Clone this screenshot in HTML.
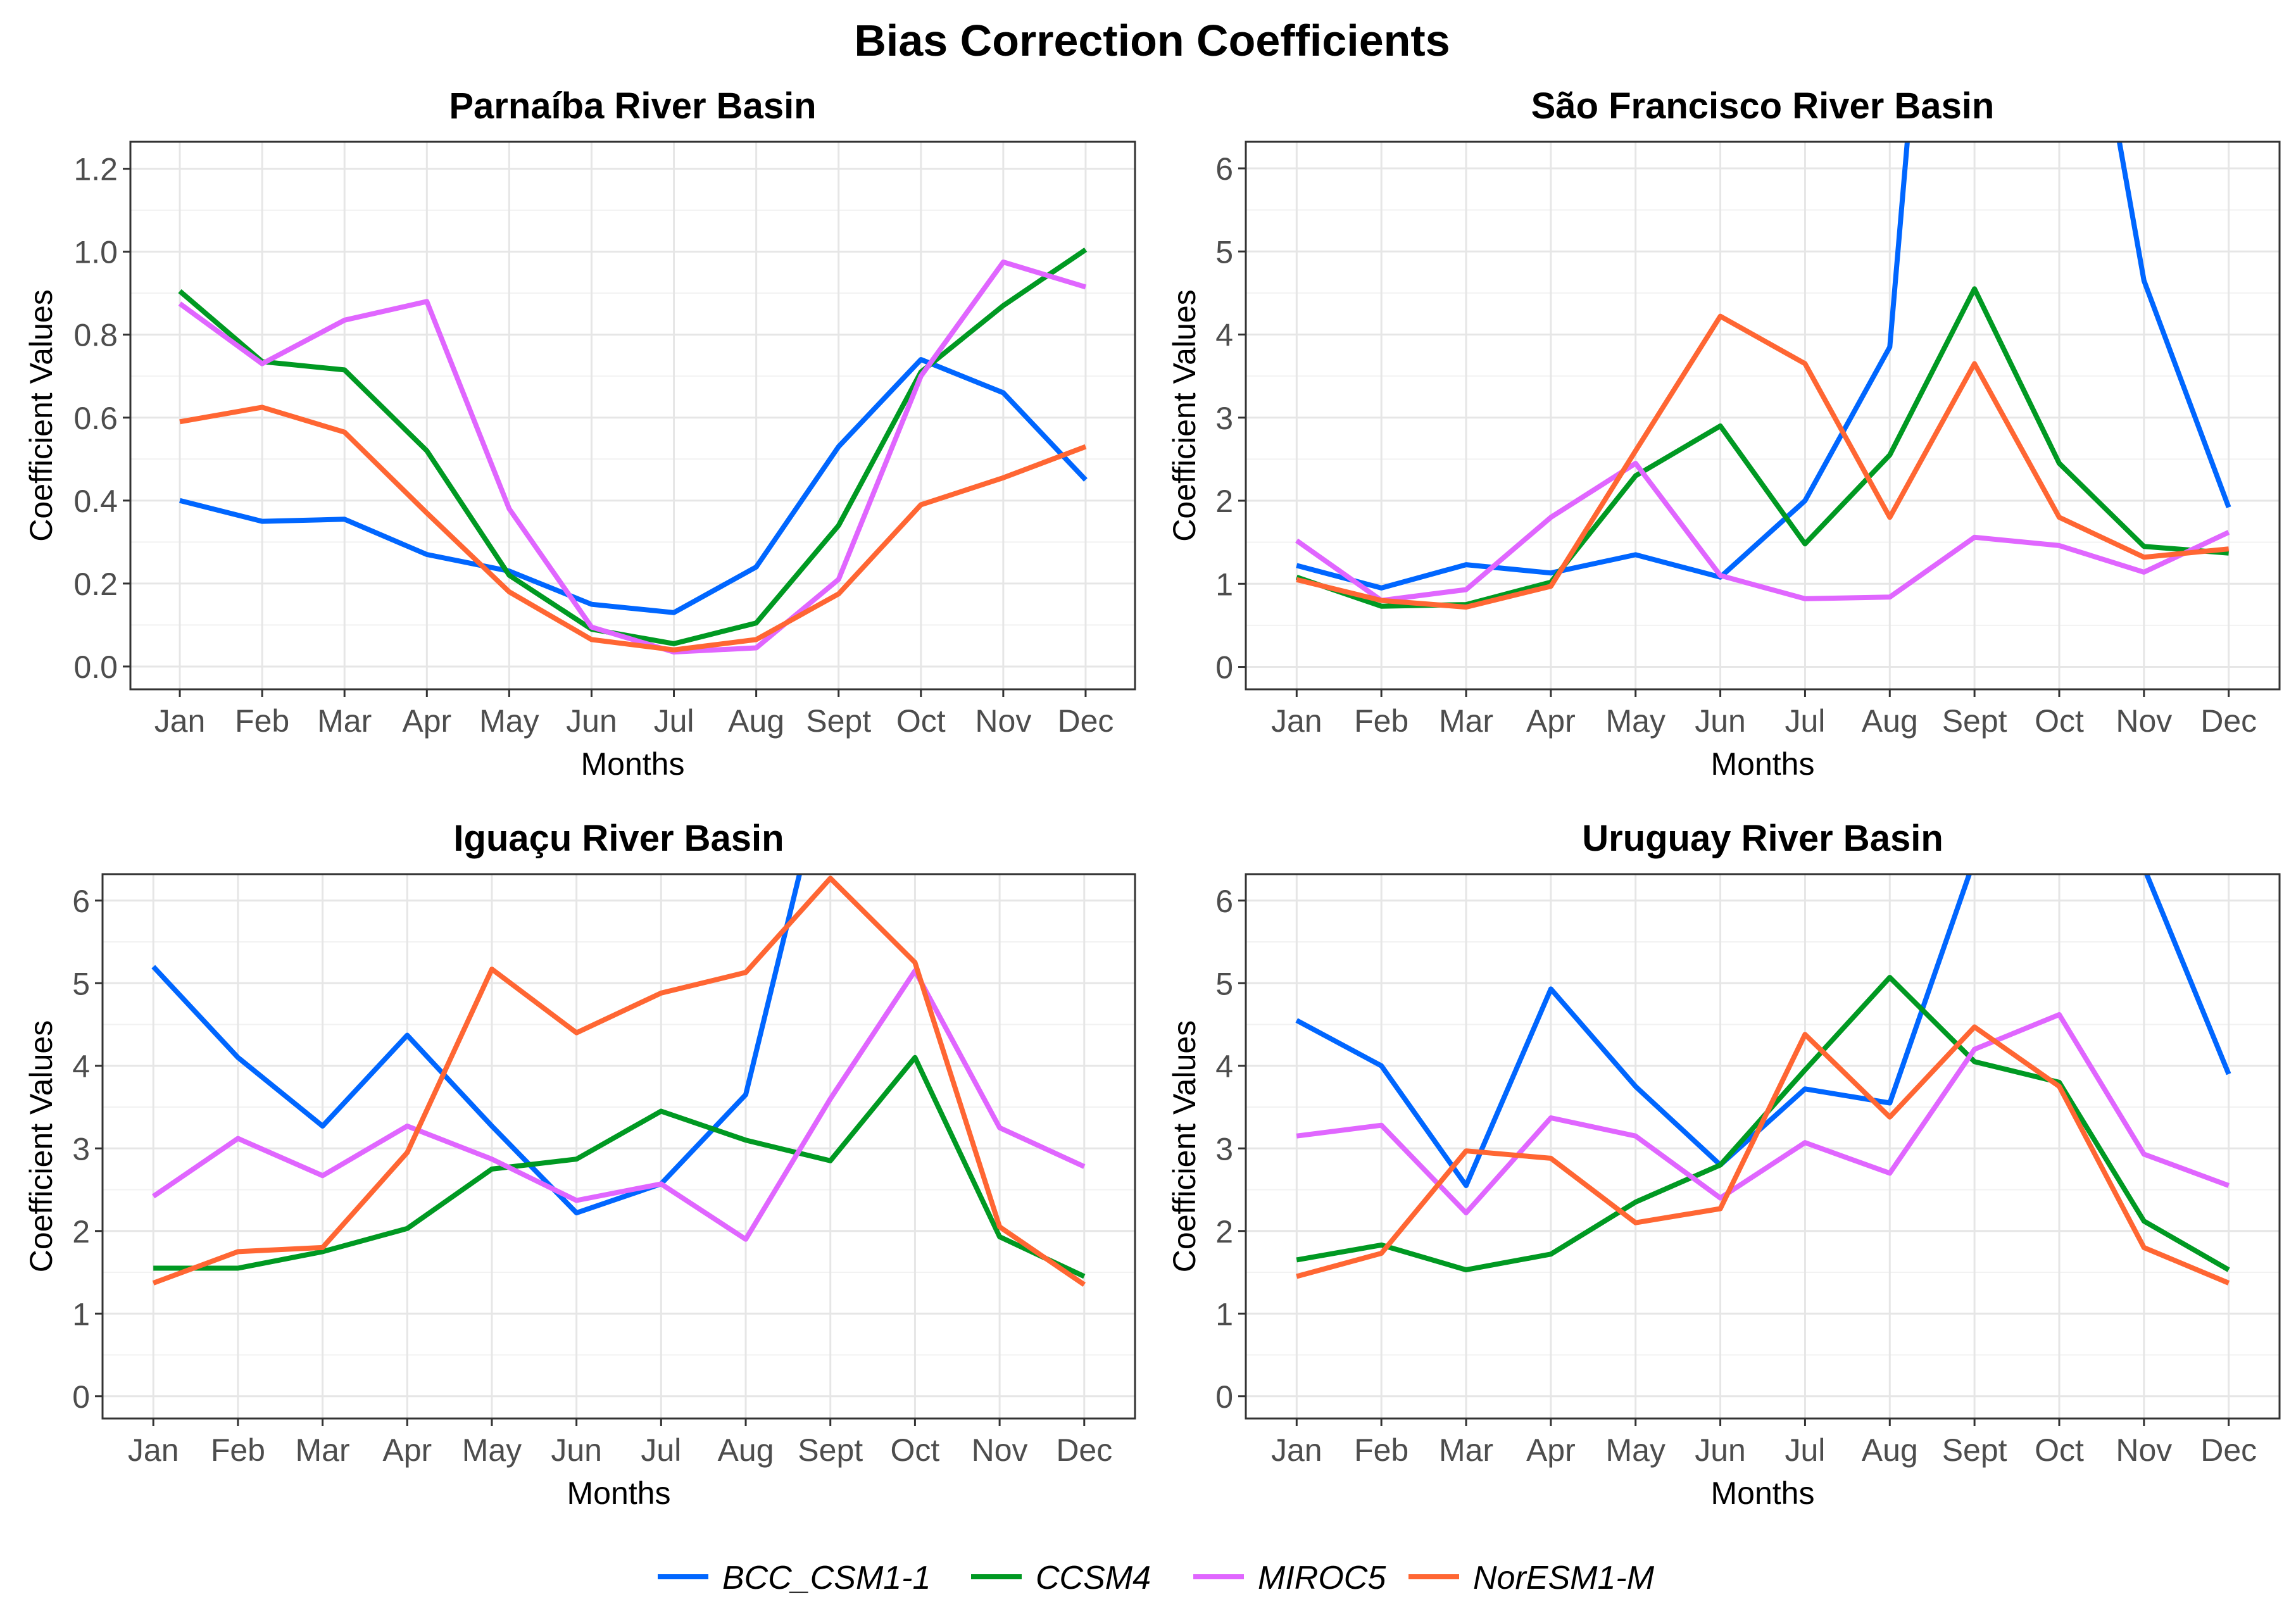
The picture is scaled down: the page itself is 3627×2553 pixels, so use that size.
<!DOCTYPE html>
<html><head><meta charset="utf-8"><style>
html,body{margin:0;padding:0;background:#fff;}
svg{display:block;font-family:"Liberation Sans",sans-serif;}
</style></head><body>
<svg id="chart" width="3627" height="2553" viewBox="0 0 3627 2553" xmlns="http://www.w3.org/2000/svg">
<text x="1820" y="88" font-size="70" font-weight="bold" text-anchor="middle" fill="#000">Bias Correction Coefficients</text>
<g id="legend"></g>
</svg>
<script>
const months = ["Jan","Feb","Mar","Apr","May","Jun","Jul","Aug","Sept","Oct","Nov","Dec"];
const seriesNames = ["BCC_CSM1-1","CCSM4","MIROC5","NorESM1-M"];
const seriesColors = ["#0066ff","#009922","#e066ff","#ff6633"];
const parnaibaTicks = [0,0.2,0.4,0.6,0.8,1.0,1.2];
const otherTicks = [0,1,2,3,4,5,6];
const parnaibaBCC = [0.40,0.35,0.355,0.27,0.23,0.15,0.13,0.24,0.53,0.74,0.66,0.45];
const parnaibaCCSM4 = [0.905,0.735,0.715,0.52,0.22,0.09,0.055,0.105,0.34,0.71,0.87,1.005];
const parnaibaMIROC5 = [0.875,0.73,0.835,0.88,0.38,0.095,0.035,0.045,0.21,0.70,0.975,0.915];
const parnaibaNorESM = [0.59,0.625,0.565,0.37,0.18,0.065,0.04,0.065,0.175,0.39,0.455,0.53];
const saoBCC = [1.22,0.95,1.23,1.13,1.35,1.08,2.0,3.85,15.8,10.4,4.65,1.92];
const saoCCSM4 = [1.08,0.73,0.75,1.02,2.3,2.9,1.48,2.55,4.55,2.45,1.45,1.37];
const saoMIROC5 = [1.52,0.8,0.93,1.8,2.45,1.1,0.82,0.84,1.56,1.46,1.14,1.62];
const saoNorESM = [1.05,0.8,0.72,0.97,2.6,4.22,3.65,1.8,3.65,1.8,1.32,1.42];
const iguacuBCC = [5.2,4.1,3.27,4.37,3.27,2.22,2.57,3.65,7.85,9,8,7];
const iguacuCCSM4 = [1.55,1.55,1.75,2.03,2.75,2.87,3.45,3.1,2.85,4.1,1.93,1.45];
const iguacuMIROC5 = [2.42,3.12,2.67,3.27,2.87,2.37,2.57,1.9,3.6,5.15,3.25,2.78];
const iguacuNorESM = [1.37,1.75,1.8,2.95,5.17,4.4,4.88,5.13,6.27,5.25,2.05,1.35];
const uruguayBCC = [4.55,4.0,2.55,4.93,3.75,2.8,3.72,3.55,6.5,8,6.4,3.9];
const uruguayCCSM4 = [1.65,1.83,1.53,1.72,2.35,2.8,3.95,5.07,4.05,3.8,2.12,1.53];
const uruguayMIROC5 = [3.15,3.28,2.22,3.37,3.15,2.4,3.07,2.7,4.2,4.62,2.93,2.55];
const uruguayNorESM = [1.45,1.73,2.97,2.88,2.1,2.27,4.38,3.38,4.47,3.75,1.8,1.37];

const panels = [
 {id:"parnaiba",title:"Parnaíba River Basin",L:206,R:1793,T:224,B:1089,ymin:-0.055,ymax:1.265,ticks:parnaibaTicks,dec:1,series:[parnaibaBCC,parnaibaCCSM4,parnaibaMIROC5,parnaibaNorESM]},
 {id:"sao-francisco",title:"São Francisco River Basin",L:1968,R:3601,T:224,B:1089,ymin:-0.27,ymax:6.32,ticks:otherTicks,dec:0,series:[saoBCC,saoCCSM4,saoMIROC5,saoNorESM]},
 {id:"iguacu",title:"Iguaçu River Basin",L:162,R:1793,T:1381,B:2241,ymin:-0.27,ymax:6.32,ticks:otherTicks,dec:0,series:[iguacuBCC,iguacuCCSM4,iguacuMIROC5,iguacuNorESM]},
 {id:"uruguay",title:"Uruguay River Basin",L:1968,R:3601,T:1381,B:2241,ymin:-0.27,ymax:6.32,ticks:otherTicks,dec:0,series:[uruguayBCC,uruguayCCSM4,uruguayMIROC5,uruguayNorESM]}
];
const NS="http://www.w3.org/2000/svg";
const svg=document.getElementById('chart');
function mk(tag,attrs,parent){const e=document.createElementNS(NS,tag);for(const k in attrs)e.setAttribute(k,attrs[k]);parent.appendChild(e);return e;}

panels.forEach((p,pi)=>{
 const g=mk('g',{},svg);
 
 
 const W=p.R-p.L, H=p.B-p.T;
 const step=W/12.2;
 const x=i=>p.L+step*(0.6+i);
 const y=v=>p.B-(v-p.ymin)/(p.ymax-p.ymin)*H;
 for(let i=0;i<p.ticks.length-1;i++){
  const v=(p.ticks[i]+p.ticks[i+1])/2;
  const l=mk('line',{x1:p.L,x2:p.R,y1:y(v),y2:y(v),stroke:'#f2f2f2','stroke-width':2},g);
  
  
 }
 p.ticks.forEach(v=>{
  const l=mk('line',{x1:p.L,x2:p.R,y1:y(v),y2:y(v),stroke:'#e6e6e6','stroke-width':3},g);
  
  
  const tk=mk('line',{x1:p.L-12,x2:p.L,y1:y(v),y2:y(v),stroke:'#333','stroke-width':3},g);
  
  
  const t=mk('text',{x:p.L-20,y:y(v)+18,'font-size':50,'text-anchor':'end',fill:'#4d4d4d'},g);
  
  
  t.textContent=v.toFixed(p.dec);
 });
 months.forEach((m,i)=>{
  const l=mk('line',{x1:x(i),x2:x(i),y1:p.T,y2:p.B,stroke:'#e6e6e6','stroke-width':3},g);
  
  
  const tk=mk('line',{x1:x(i),x2:x(i),y1:p.B,y2:p.B+12,stroke:'#333','stroke-width':3},g);
  
  
  const t=mk('text',{x:x(i),y:p.B+67,'font-size':50,'text-anchor':'middle',fill:'#4d4d4d'},g);
  
  
  t.textContent=m;
 });
 const cp=mk('clipPath',{id:'clip'+pi},g);
 mk('rect',{x:p.L,y:p.T,width:W,height:H},cp);
 const lg=mk('g',{'clip-path':'url(#clip'+pi+')'},g);
 p.series.forEach((s,si)=>{
  const pts=s.map((v,i)=>x(i).toFixed(1)+','+y(v).toFixed(1)).join(' ');
  const pl=mk('polyline',{points:pts,fill:'none',stroke:seriesColors[si],'stroke-width':8,'stroke-linejoin':'round'},lg);
  
  
 });
 const fr=mk('rect',{x:p.L,y:p.T,width:W,height:H,fill:'none',stroke:'#333','stroke-width':3},g);
 
 
 const tt=mk('text',{x:(p.L+p.R)/2,y:p.T-37,'font-size':58,'font-weight':'bold','text-anchor':'middle',fill:'#000'},g);
 
 
 tt.textContent=p.title;
 const xt=mk('text',{x:(p.L+p.R)/2,y:p.B+135,'font-size':50,'text-anchor':'middle',fill:'#000'},g);
 
 
 xt.textContent='Months';
 const cy=(p.T+p.B)/2, cx=(pi%2===0)?82:1888;
 const yt=mk('text',{x:cx,y:cy,'font-size':50,'text-anchor':'middle',fill:'#000',transform:'rotate(-90 '+cx+' '+cy+')'},g);
 
 
 yt.textContent='Coefficient Values';
});

const legend=document.getElementById('legend');
const legX=[1039,1534,1885,2225];
seriesNames.forEach((n,i)=>{
 const e=mk('g',{},legend);
 
 
 mk('line',{x1:legX[i],x2:legX[i]+80,y1:2491,y2:2491,stroke:seriesColors[i],'stroke-width':8},e);
 const t=mk('text',{x:legX[i]+102,y:2510,'font-size':52,'font-style':'italic',fill:'#000'},e);
 t.textContent=n;
});
</script>
</body></html>
